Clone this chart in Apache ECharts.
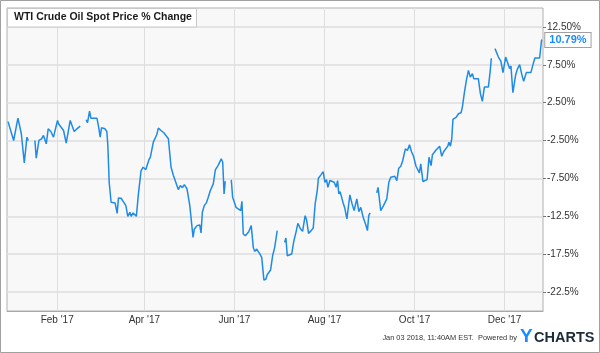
<!DOCTYPE html>
<html>
<head>
<meta charset="utf-8">
<script src="https://cdn.jsdelivr.net/npm/echarts@6/dist/echarts.min.js"></script>
<style>
html,body{margin:0;padding:0;background:#fff;}
#chart{width:600px;height:353px;}
</style>
</head>
<body>
<div id="chart"></div>
<script>
// Day of year 2017 (Jan 1 = 0) for each observation; null value = gap in the series
var days = [-2.3,1.5,4.4,6.7,8.7,10.5,11.4,13.6,15.9,16.8,18.6,20.4,21.7,23.6,24.9,26.7,28.5,29.7,31.2,31.9,33.0,35.3,37.1,39.8,42.5,43.9,44.7,46.6,48.6,50.6,51.5,52.9,53.8,57.9,59.2,60.1,61.0,63.3,64.6,65.3,66.2,67.5,70.2,71.6,72.5,74.3,76.1,77.5,78.8,80.2,81.1,82.4,84.6,86.0,87.8,89.2,91.0,91.9,93.2,94.1,96.1,98.4,99.5,101.3,103.2,106.3,107.4,108.1,109.7,111.3,113.0,114.4,115.8,117.1,118.9,120.8,121.6,123.0,123.9,125.7,127.5,128.4,129.3,130.6,132.0,133.3,134.7,136.7,138.1,139.9,142.1,143.1,144.0,144.8,146.8,148.9,149.8,150.7,152.1,155.3,156.1,157.0,158.4,160.7,162.4,163.8,164.7,166.1,168.3,169.5,171.0,172.4,173.2,175.5,176.9,178.3,179.1,180.0,182.5,185.0,185.9,186.8,189.8,191.3,192.7,194.0,195.8,197.2,198.9,199.9,201.2,203.0,204.4,205.7,207.1,207.9,209.6,211.1,212.3,213.4,214.3,215.7,218.6,219.9,220.9,221.7,222.6,224.5,225.8,227.2,229.2,230.7,232.1,233.9,235.3,236.6,238.2,239.8,241.1,242.0,242.9,245.1,247.4,248.3,250.1,252.0,254.2,255.6,256.9,259.6,261.0,262.3,263.7,265.0,266.8,268.2,269.6,270.9,272.3,274.0,276.3,277.2,278.7,281.5,282.8,284.2,285.1,287.3,290.0,291.4,292.8,295.5,296.3,297.3,298.2,299.0,301.3,302.7,304.5,305.4,306.8,308.1,309.5,310.8,312.2,313.1,316.2,317.6,318.9,320.3,323.0,324.3,325.0,326.4,327.5,329.8,331.5,332.9,334.7,336.0,337.4,338.3,339.6,341.5,342.8,344.2,345.5,346.9,348.7,351.8,353.2,354.5,357.7,359.0,359.5];
// WTI crude oil spot price % change
var pct = [0.0,-2.49,0.46,-1.60,-5.44,-2.05,-2.49,null,-2.49,-4.83,-2.49,-2.27,-1.83,-2.93,-0.94,-1.30,-2.05,-1.92,0.16,-0.28,-0.07,-1.17,-2.85,0.16,-1.30,-1.03,-1.13,-0.60,null,0.25,-0.15,1.39,0.46,0.46,-0.86,-2.05,-0.81,-0.94,-1.30,-3.15,-8.01,-10.65,-10.73,-12.11,-10.07,-10.12,-10.65,-11.09,-12.50,-11.97,-12.50,-12.05,-12.50,-9.54,-6.46,-6.02,-6.33,-6.46,-5.00,-4.70,-2.71,-1.74,-0.86,-1.17,-1.47,-2.26,-2.49,-6.02,-7.12,-8.01,-8.97,-8.44,-8.71,-8.31,-8.88,-11.09,-11.18,-15.28,-14.17,-13.73,-13.64,-14.70,-11.97,-11.09,-10.73,-9.99,-9.10,-8.22,-6.36,-5.80,-4.91,-5.36,-9.54,-7.87,null,-7.69,-9.99,-10.25,-11.31,-11.75,-10.52,-14.83,-15.06,-14.53,-13.73,-16.60,-17.13,-16.82,-17.48,-17.93,-20.92,-20.78,-20.21,-19.59,-17.70,-16.60,-16.38,-14.39,null,-15.94,-15.36,-17.70,-17.48,-15.72,-14.62,-13.43,-14.17,-14.49,-12.41,-12.98,-14.75,-14.39,-14.04,-10.86,-9.10,-7.48,-7.03,-6.59,-8.01,-7.65,-8.67,-7.78,-8.01,-8.67,-7.78,-9.54,-9.24,-10.65,-11.44,-12.85,-9.67,-10.86,-11.75,-10.20,-11.88,-11.31,-12.63,-13.51,-14.39,-12.41,-12.05,null,-9.41,-8.67,-11.75,-11.09,-10.20,-8.01,-7.34,-7.21,-7.78,-6.15,-5.89,-5.13,-3.59,-3.81,-3.06,-3.94,-4.57,-5.89,-6.76,-5.57,-7.91,-7.65,-4.70,-5.80,-4.38,-3.81,-3.24,-4.57,-3.94,-3.24,-2.71,-3.24,-2.26,0.29,0.59,1.04,1.17,1.92,3.90,5.45,6.77,5.88,6.33,5.67,5.67,3.69,2.67,4.56,4.56,6.77,8.36,null,9.64,8.53,7.96,6.47,8.53,7.79,7.00,7.34,3.82,6.20,7.00,7.52,6.33,5.32,6.47,6.47,7.52,8.40,8.40,10.74,10.79];

var xTickDays = [31, 90, 151, 212, 273, 334];
var xTickLabels = ["Feb '17", "Apr '17", "Jun '17", "Aug '17", "Oct '17", "Dec '17"];
var yTickValues = [12.5, 7.5, 2.5, -2.5, -7.5, -12.5, -17.5, -22.5];
var yTickLabels = ["12.50%", "7.50%", "2.50%", "-2.50%", "-7.50%", "-12.5%", "-17.5%", "-22.5%"];
var titleText = "WTI Crude Oil Spot Price % Change";
var lastLabel = "10.79%";
var footerText = "Jan 03 2018, 11:40AM EST.  Powered by";

var seriesData = days.map(function (d, i) { return [d, pct[i]]; });
var gridLines = yTickValues.map(function (v) { return {yAxis: v}; });
var FONT = "'Liberation Sans', Arial, sans-serif";

var chart = echarts.init(document.getElementById('chart'), null, {renderer: 'canvas'});
chart.setOption({
  animation: false,
  backgroundColor: '#ffffff',
  textStyle: {fontFamily: FONT},
  grid: {
    left: 7, right: 57, top: 8, bottom: 42,
    show: true, backgroundColor: '#f8f8f8', borderColor: '#b0b0b0', borderWidth: 1
  },
  xAxis: {
    type: 'value', min: -3, max: 360,
    axisLine: {show: true, onZero: false, lineStyle: {color: '#a8a8a8'}},
    axisTick: {show: false, customValues: xTickDays},
    axisLabel: {
      customValues: xTickDays, color: '#333', fontSize: 10, fontFamily: FONT, margin: 4,
      formatter: function (v) { var k = xTickDays.indexOf(v); return k >= 0 ? xTickLabels[k] : ''; }
    },
    splitLine: {show: true, lineStyle: {color: '#dedede', width: 1}}
  },
  yAxis: {
    type: 'value', position: 'right', min: -25, max: 15,
    axisLine: {show: false, onZero: false},
    axisTick: {show: true, customValues: yTickValues, length: 3, lineStyle: {color: '#777'}},
    axisLabel: {
      customValues: yTickValues, color: '#333', fontSize: 10, fontFamily: FONT, margin: 4,
      formatter: function (v) {
        for (var k = 0; k < yTickValues.length; k++) { if (Math.abs(yTickValues[k] - v) < 1e-6) return yTickLabels[k]; }
        return '';
      }
    },
    splitLine: {show: false}
  },
  series: [{
    type: 'line',
    data: seriesData,
    showSymbol: false,
    connectNulls: false,
    z: 3,
    lineStyle: {color: '#1f8be6', width: 1.5},
    itemStyle: {color: '#1f8be6'},
    endLabel: {
      show: true, formatter: lastLabel, color: '#1a8cff', fontWeight: 'bold', fontSize: 11,
      fontFamily: FONT, backgroundColor: '#fff', borderColor: '#a0a0a0', borderWidth: 1,
      padding: [2, 4, 1, 4], distance: 3
    },
    markLine: {
      silent: true, symbol: 'none', z: 1, animation: false,
      label: {show: false},
      lineStyle: {color: '#dedede', width: 1.5, type: 'solid'},
      emphasis: {disabled: true},
      data: gridLines
    }
  }],
  graphic: [
    {type: 'rect', shape: {x: 0.5, y: 0.5, width: 599, height: 352}, style: {fill: 'none', stroke: '#a0a0a0', lineWidth: 1}, z: 100},
    {type: 'rect', shape: {x: 7.5, y: 8.5, width: 189, height: 18.5}, style: {fill: '#fff', stroke: '#c8c8c8', lineWidth: 1}, z: 100},
    {type: 'text', x: 14, y: 17.5, style: {text: titleText, fill: '#1a1a1a', font: 'bold 10.5px ' + FONT, textVerticalAlign: 'middle'}, z: 101},
    {type: 'text', x: 517, y: 337.5, style: {text: footerText, fill: '#333', font: '7.4px ' + FONT, textAlign: 'right', textVerticalAlign: 'middle'}, z: 101},
    {type: 'text', x: 520, y: 336.5, style: {text: 'Y', fill: '#1a8cff', font: 'bold 19px ' + FONT, textVerticalAlign: 'middle'}, z: 101},
    {type: 'text', x: 534, y: 338, style: {text: 'CHARTS', fill: '#1c2b3a', font: 'bold 14.5px ' + FONT, textVerticalAlign: 'middle'}, z: 101}
  ]
});
</script>
</body>
</html>
